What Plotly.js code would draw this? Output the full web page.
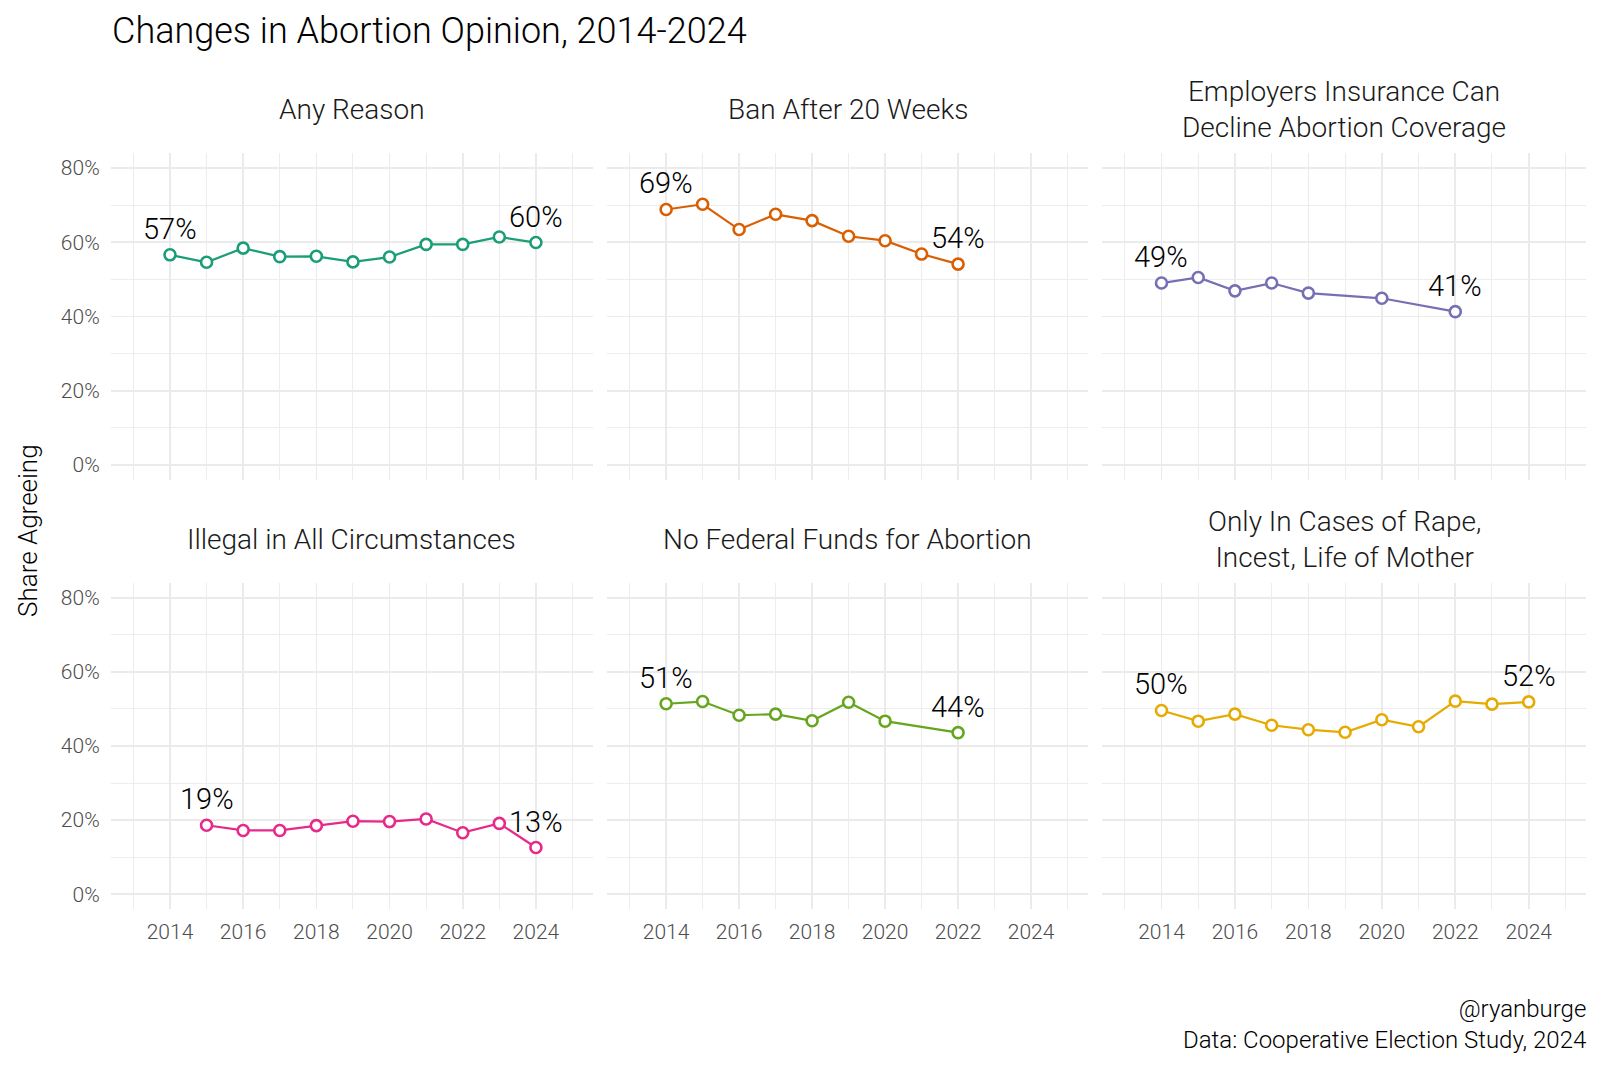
<!DOCTYPE html>
<html>
<head>
<meta charset="utf-8">
<script src="https://cdn.plot.ly/plotly-3.0.1.min.js"></script>
<style>html,body{margin:0;padding:0;background:#fff;}#chart{width:1600px;height:1066px;}</style>
</head>
<body>
<div id="chart"></div>
<script>
// ---- data ----
const panelTitles = [
  "Any Reason",
  "Ban After 20 Weeks",
  "Employers Insurance Can<br>Decline Abortion Coverage",
  "Illegal in All Circumstances",
  "No Federal Funds for Abortion",
  "Only In Cases of Rape,<br>Incest, Life of Mother"
];
const colors = ["#1B9E77", "#D95F02", "#7570B3", "#E7298A", "#66A61E", "#E6AB02"];

const yearsAny = [2014, 2015, 2016, 2017, 2018, 2019, 2020, 2021, 2022, 2023, 2024];
const anyReason = [56.6, 54.6, 58.4, 56.1, 56.2, 54.7, 56.0, 59.4, 59.4, 61.4, 59.9];

const yearsBan = [2014, 2015, 2016, 2017, 2018, 2019, 2020, 2021, 2022];
const ban20 = [68.8, 70.2, 63.4, 67.5, 65.8, 61.6, 60.4, 56.8, 54.1];

const yearsEmp = [2014, 2015, 2016, 2017, 2018, 2020, 2022];
const employers = [49.0, 50.5, 46.9, 49.0, 46.3, 44.9, 41.3];

const yearsIllegal = [2015, 2016, 2017, 2018, 2019, 2020, 2021, 2022, 2023, 2024];
const illegal = [18.6, 17.2, 17.2, 18.5, 19.7, 19.6, 20.3, 16.6, 19.1, 12.6];

const yearsFed = [2014, 2015, 2016, 2017, 2018, 2019, 2020, 2022];
const noFedFunds = [51.4, 52.0, 48.3, 48.6, 46.8, 51.8, 46.7, 43.6];

const yearsRape = [2014, 2015, 2016, 2017, 2018, 2019, 2020, 2021, 2022, 2023, 2024];
const rapeIncest = [49.6, 46.7, 48.6, 45.6, 44.4, 43.7, 47.1, 45.2, 52.1, 51.3, 51.9];

const xTickVals = [2014, 2016, 2018, 2020, 2022, 2024];
const yTickVals = [0, 20, 40, 60, 80];
const yTickText = ["0%", "20%", "40%", "60%", "80%"];

const series = [
  [yearsAny, anyReason], [yearsBan, ban20], [yearsEmp, employers],
  [yearsIllegal, illegal], [yearsFed, noFedFunds], [yearsRape, rapeIncest]
];

// ---- layout geometry (pixels) ----
const W = 1600, H = 1066;
const FONT = "Roboto, 'Open Sans', sans-serif";
const colPx = [[110.7, 593], [607, 1088], [1102, 1586]];
const rowPx = [[153, 480], [583, 909]];
const titleYPx = [109, 539];

const traces = [];
const annotations = [];
const layout = {
  width: W, height: H,
  margin: {l: 0, r: 0, t: 0, b: 0},
  paper_bgcolor: "#fff", plot_bgcolor: "#fff",
  showlegend: false,
  font: {family: FONT, color: "#1a1a1a", weight: 300},
  annotations: annotations
};

series.forEach((s, i) => {
  const row = Math.floor(i / 3), col = i % 3;
  const ax = i === 0 ? "" : String(i + 1);
  const xs = s[0], ys = s[1];
  traces.push({
    x: xs, y: ys, xaxis: "x" + ax, yaxis: "y" + ax,
    type: "scatter", mode: "lines+markers",
    line: {color: colors[i], width: 2.2},
    marker: {symbol: "circle", size: 11, color: "#fff", line: {color: colors[i], width: 2.6}},
    hoverinfo: "skip"
  });
  layout["xaxis" + ax] = {
    domain: [colPx[col][0] / W, colPx[col][1] / W],
    range: [2012.38, 2025.56],
    anchor: "y" + ax,
    tickvals: xTickVals,
    showticklabels: row === 1,
    ticks: "", ticklabelstandoff: 8,
    tickfont: {family: FONT, size: 21, color: "#4d4d4d", weight: 300},
    showgrid: true, gridcolor: "#ebebeb", gridwidth: 1.7,
    zeroline: false, showline: false,
    minor: {dtick: 1, tick0: 2013, showgrid: true, gridcolor: "#ebebeb", gridwidth: 0.9, ticks: ""}
  };
  layout["yaxis" + ax] = {
    domain: [1 - rowPx[row][1] / H, 1 - rowPx[row][0] / H],
    range: [-4, 84],
    anchor: "x" + ax,
    tickvals: yTickVals, ticktext: yTickText,
    showticklabels: col === 0,
    ticks: "", ticklabelstandoff: 10,
    tickfont: {family: FONT, size: 21, color: "#4d4d4d", weight: 300},
    showgrid: true, gridcolor: "#ebebeb", gridwidth: 1.7,
    zeroline: false, showline: false,
    minor: {dtick: 10, tick0: 0, showgrid: true, gridcolor: "#ebebeb", gridwidth: 0.9, ticks: ""}
  };
  // facet title
  annotations.push({
    xref: "paper", yref: "paper",
    x: (colPx[col][0] + colPx[col][1]) / 2 / W,
    y: 1 - titleYPx[row] / H,
    xanchor: "center", yanchor: "middle",
    text: panelTitles[i], showarrow: false,
    font: {family: FONT, size: 28, color: "#1a1a1a", weight: 300}
  });
  // first / last value labels
  [0, xs.length - 1].forEach(k => {
    annotations.push({
      xref: "x" + ax, yref: "y" + ax,
      x: xs[k], y: ys[k], yshift: 26,
      xanchor: "center", yanchor: "middle",
      text: Math.round(ys[k]) + "%", showarrow: false,
      font: {family: FONT, size: 29, color: "#000", weight: 300}
    });
  });
});

// main title
annotations.push({
  xref: "paper", yref: "paper", x: 110 / W, y: 1 - 31 / H,
  xanchor: "left", yanchor: "middle",
  text: "Changes in Abortion Opinion, 2014-2024", showarrow: false,
  font: {family: FONT, size: 36, color: "#000", weight: 300}
});
// y axis title
annotations.push({
  xref: "paper", yref: "paper", x: 28 / W, y: 1 - 531 / H,
  xanchor: "center", yanchor: "middle", textangle: -90,
  text: "Share Agreeing", showarrow: false,
  font: {family: FONT, size: 26, color: "#000", weight: 300}
});
// caption
annotations.push({
  xref: "paper", yref: "paper", x: 1588 / W, y: 1 - 1024 / H,
  xanchor: "right", yanchor: "middle", align: "right",
  text: "@ryanburge<br>Data: Cooperative Election Study, 2024", showarrow: false,
  font: {family: FONT, size: 24, color: "#000", weight: 300}
});

Plotly.newPlot("chart", traces, layout, {staticPlot: true, displayModeBar: false});
</script>
</body>
</html>
